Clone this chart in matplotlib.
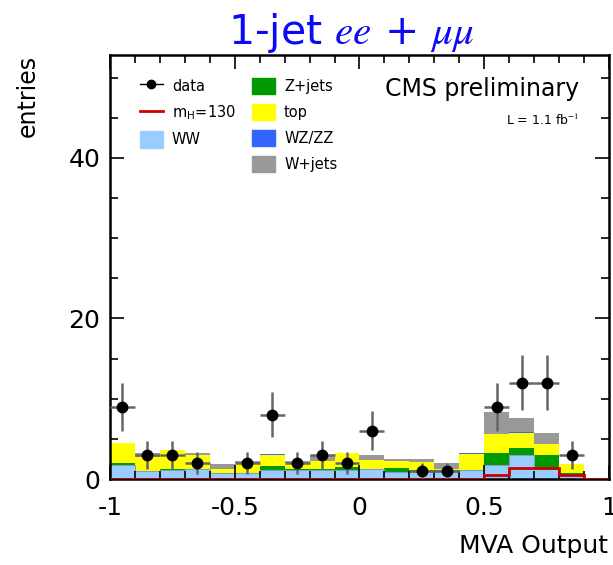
import numpy as np
import matplotlib.pyplot as plt
from matplotlib.patches import Patch
from matplotlib.lines import Line2D

plt.rcParams["mathtext.fontset"] = "stix"

# bin edges of the MVA output, 20 bins from -1 to 1
edges = np.linspace(-1, 1, 21)
centers = 0.5 * (edges[:-1] + edges[1:])

# backgrounds, stacked bottom to top
ww = [1.8, 1.0, 1.1, 1.2, 0.7, 0.7, 1.1, 1.1, 1.1, 1.1,
      1.2, 0.9, 0.9, 0.9, 1.1, 1.8, 3.0, 1.3, 0.5, 0.0]
zjets = [0.2, 0.0, 0.2, 0.0, 0.0, 0.1, 0.5, 0.2, 0.2, 0.4,
         0.0, 0.5, 0.2, 0.2, 0.0, 1.4, 0.9, 1.7, 0.3, 0.0]
top = [2.5, 1.8, 2.3, 1.8, 0.55, 1.2, 1.4, 0.7, 1.0, 1.7,
       1.2, 0.85, 1.05, 0.2, 2.0, 2.35, 1.8, 1.4, 1.05, 0.0]
wzzz = [0.0, 0.0, 0.0, 0.0, 0.0, 0.0, 0.1, 0.0, 0.0, 0.1,
        0.0, 0.0, 0.0, 0.0, 0.1, 0.05, 0.2, 0.0, 0.0, 0.0]
wjets = [0.0, 0.5, 0.0, 0.3, 0.65, 0.2, 0.0, 0.2, 0.7, 0.0,
         0.6, 0.25, 0.35, 0.7, 0.0, 2.8, 1.65, 1.3, 0.05, 0.0]

# Higgs signal, m_H = 130
signal = [0.0] * 15 + [0.5, 1.4, 1.4, 0.5, 0.0]

# observed events
data = [9, 3, 3, 2, 0, 2, 8, 2, 3, 2,
        6, 0, 1, 1, 0, 9, 12, 12, 3, 0]

c_ww = "#99ccff"
c_z = "#009900"
c_top = "#ffff00"
c_wz = "#3366ff"
c_wj = "#999999"
c_sig = "#cc0000"

fig = plt.figure(figsize=(6.13, 5.65), dpi=100)
ax = fig.add_axes([0.1794, 0.1522, 0.8140, 0.7504])

bottom = np.zeros(len(centers))
for vals, col in [(ww, c_ww), (zjets, c_z), (top, c_top), (wzzz, c_wz), (wjets, c_wj)]:
    vals = np.array(vals)
    ax.bar(edges[:-1], vals, width=0.1, bottom=bottom, align="edge",
           color=col, linewidth=0)
    bottom = bottom + vals

# WW outline, as in the ROOT style
ax.stairs(ww, edges, color="#7f9fc0", lw=0.8, baseline=0)

ax.stairs(signal, edges, color=c_sig, lw=2, baseline=0, zorder=3)

data = np.array(data, dtype=float)
m = data > 0
ax.errorbar(centers[m], data[m], xerr=0.05, yerr=np.sqrt(data[m]),
            fmt="o", color="black", ms=7.5, ecolor="#666666",
            elinewidth=1.8, capsize=0, zorder=4)

ax.set_xlim(-1, 1)
ax.set_ylim(0, 52.8)
ax.set_xticks([-1, -0.5, 0, 0.5, 1])
ax.set_xticklabels(["-1", "-0.5", "0", "0.5", "1"])
ax.set_xticks(np.arange(-1, 1.01, 0.1), minor=True)
ax.set_yticks([0, 20, 40])
ax.set_yticks(np.arange(0, 52, 5), minor=True)
ax.tick_params(which="both", direction="in", top=True, right=True,
               labelsize=18, width=1.2)
ax.tick_params(axis="x", which="both", pad=12)
ax.tick_params(axis="y", which="both", pad=7)
ax.tick_params(which="major", length=10)
ax.tick_params(which="minor", length=6)
for s in ax.spines.values():
    s.set_linewidth(1.8)

# legends
fs = 10.5
leg1 = ax.legend(
    handles=[
        Line2D([], [], color="black", marker="o", ms=6, lw=1),
        Line2D([], [], color=c_sig, lw=2),
        Patch(facecolor=c_ww, edgecolor=c_ww),
    ],
    labels=["data", r"m$_{\mathregular{H}}$=130", "WW"],
    loc="upper left", bbox_to_anchor=(0.060, 0.946), frameon=False,
    fontsize=fs, borderpad=0, borderaxespad=0, handlelength=1.58,
    handleheight=1.37, labelspacing=0.64, handletextpad=0.62,
)
ax.add_artist(leg1)
ax.legend(
    handles=[
        Patch(facecolor=c_z, edgecolor=c_z),
        Patch(facecolor=c_top, edgecolor=c_top),
        Patch(facecolor=c_wz, edgecolor=c_wz),
        Patch(facecolor=c_wj, edgecolor=c_wj),
    ],
    labels=["Z+jets", "top", "WZ/ZZ", "W+jets"],
    loc="upper left", bbox_to_anchor=(0.2846, 0.946), frameon=False,
    fontsize=fs, borderpad=0, borderaxespad=0, handlelength=1.58,
    handleheight=1.37, labelspacing=0.64, handletextpad=0.62,
)

ax.text(0.94, 0.92, "CMS preliminary", transform=ax.transAxes,
        ha="right", va="center", fontsize=17)
ax.text(0.94, 0.845, r"L = 1.1 fb$^{-1}$", transform=ax.transAxes,
        ha="right", va="center", fontsize=9)

fig.text(0.574, 1 - 44 / 565, r"1-jet $ee$ + $\mu\mu$", ha="center",
         va="baseline", fontsize=29.5, color="#0a0af5")
fig.text(608 / 613, 1 - 546 / 565, "MVA Output", ha="right", va="center",
         fontsize=18)
fig.text(28 / 613, 1 - 55 / 565, "entries", rotation=90, ha="center",
         va="top", fontsize=17)

fig.savefig("out.png", dpi=100)
